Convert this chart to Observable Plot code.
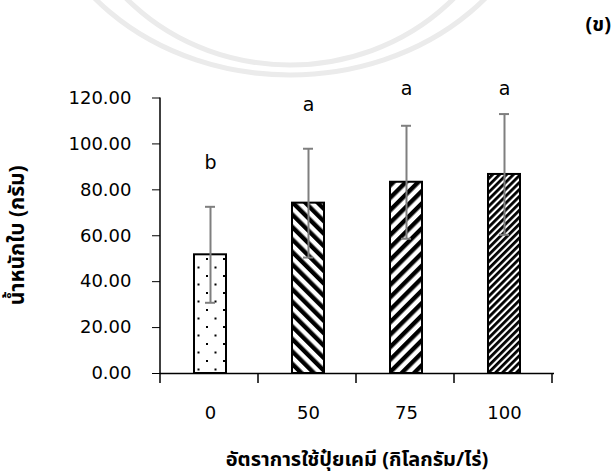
<!DOCTYPE html>
<html><head><meta charset="utf-8">
<script src="https://cdn.jsdelivr.net/npm/d3@7"></script>
<script src="https://cdn.jsdelivr.net/npm/@observablehq/plot@0.6"></script>
<style>
body{margin:0;background:#fff;}
#chart{position:relative;width:611px;height:475px;overflow:hidden;}
#chart svg.wm{position:absolute;left:0;top:0;}
#chart figure, #chart > svg:not(.wm){position:absolute;left:0;top:0;}
</style></head><body>
<svg width="0" height="0" style="position:absolute">
<defs>
<pattern id="dots" patternUnits="userSpaceOnUse" width="17" height="17">
<rect width="17" height="17" fill="#fff"/>
<rect x="2" y="3" width="2" height="2" fill="#000"/>
<rect x="10.5" y="11.5" width="2" height="2" fill="#000"/>
</pattern>
<pattern id="wideDown" patternUnits="userSpaceOnUse" width="8.8" height="8.8" patternTransform="rotate(-45)">
<rect width="8.8" height="8.8" fill="#fff"/>
<rect width="4.4" height="8.8" fill="#000"/>
</pattern>
<pattern id="wideUp" patternUnits="userSpaceOnUse" width="8.8" height="8.8" patternTransform="rotate(45)">
<rect width="8.8" height="8.8" fill="#fff"/>
<rect width="4.4" height="8.8" fill="#000"/>
</pattern>
<pattern id="darkUp" patternUnits="userSpaceOnUse" width="4.9" height="4.9" patternTransform="rotate(45)">
<rect width="4.9" height="4.9" fill="#fff"/>
<rect width="2.8" height="4.9" fill="#000"/>
</pattern>
</defs>
</svg>
<div id="chart"></div>
<script>
const rates = ["0", "50", "75", "100"];
const means = [51.7, 74.2, 83.3, 86.7];
const sds = [20.9, 23.7, 24.6, 26.3];
const letters = ["b", "a", "a", "a"];
const patterns = ["dots", "wideDown", "wideUp", "darkUp"];
const yTicks = [0, 20, 40, 60, 80, 100, 120];
const xTitle = "อัตราการใช้ปุ๋ยเคมี (กิโลกรัม/ไร่)";
const yTitle = "น้ำหนักใบ (กรัม)";
const panelTag = "(ข)";

const data = rates.map((r, i) => ({rate: r, mean: means[i], sd: sds[i], letter: letters[i], pattern: patterns[i]}));
const thaiFont = "'Noto Sans Thai', Tahoma, 'DejaVu Sans', sans-serif";
const errColor = "#7f7f7f";

const plot = Plot.plot({
  width: 611,
  height: 475,
  marginLeft: 160,
  marginRight: 57,
  marginTop: 97.5,
  marginBottom: 102,
  style: {fontFamily: "'DejaVu Sans', sans-serif", fontSize: "18px", color: "#000", background: "transparent", overflow: "visible"},
  x: {domain: rates, paddingInner: 0.675, paddingOuter: 0.3375, axis: null},
  y: {domain: [0, 120], axis: null},
  marks: [
    ...data.map(d => Plot.barY([d], {x: "rate", y: "mean", fill: `url(#${d.pattern})`, stroke: "#000", strokeWidth: 2})),
    Plot.ruleX(data, {x: "rate", y1: d => d.mean - d.sd, y2: d => d.mean + d.sd, stroke: errColor, strokeWidth: 2}),
    Plot.tickY(data, {x: "rate", y: d => d.mean + d.sd, stroke: errColor, strokeWidth: 2, insetLeft: 11, insetRight: 11}),
    Plot.tickY(data, {x: "rate", y: d => d.mean - d.sd, stroke: errColor, strokeWidth: 2, insetLeft: 11, insetRight: 11}),
    Plot.text(data, {x: "rate", y: d => Math.min(d.mean + d.sd + 19, 124), text: "letter", fontSize: 19}),
    Plot.ruleY([0], {stroke: "#000", strokeWidth: 1.5}),
    Plot.axisY({ticks: yTicks, tickFormat: d => d.toFixed(2), tickSize: 8, tickPadding: 21, fontSize: 18, label: null}),
    Plot.axisX({tickSize: 0, tickPadding: 33, fontSize: 18, label: null})
  ]
});

const svg = d3.select(plot);
const xs = plot.scale("x");
const ys = plot.scale("y");
const x0 = xs.range[0];
// y axis line
svg.append("line")
  .attr("x1", x0).attr("x2", x0)
  .attr("y1", ys.apply(0)).attr("y2", ys.apply(120))
  .attr("stroke", "#000").attr("stroke-width", 1.5);
// category boundary ticks
for (let i = 0; i <= rates.length; i++) {
  const bx = x0 + i * xs.step;
  svg.append("line")
    .attr("x1", bx).attr("x2", bx)
    .attr("y1", ys.apply(0)).attr("y2", ys.apply(0) + 10)
    .attr("stroke", "#000").attr("stroke-width", 1.5);
}
// axis titles
svg.append("text")
  .attr("x", (xs.range[0] + xs.range[1]) / 2).attr("y", 460)
  .attr("text-anchor", "middle").attr("dominant-baseline", "middle")
  .attr("font-family", thaiFont).attr("font-weight", "bold").attr("font-size", 20)
  .text(xTitle);
svg.append("text")
  .attr("transform", `translate(18,${(ys.apply(0) + ys.apply(120)) / 2}) rotate(-90)`)
  .attr("text-anchor", "middle").attr("dominant-baseline", "middle")
  .attr("font-family", thaiFont).attr("font-weight", "bold").attr("font-size", 21)
  .text(yTitle);
svg.append("text")
  .attr("x", 611).attr("y", 25)
  .attr("text-anchor", "end")
  .attr("dominant-baseline", "middle")
  .attr("font-family", thaiFont).attr("font-weight", "bold").attr("font-size", 20)
  .text(panelTag);

// faint background watermark arcs (page decoration, not chart data)
const wm = d3.select("#chart").append("svg").attr("class", "wm")
  .attr("width", 611).attr("height", 475);
[[255, 215], [222, 205]].forEach(([rx, ry]) => {
  wm.append("ellipse").attr("cx", 290).attr("cy", -140).attr("rx", rx).attr("ry", ry)
    .attr("fill", "none").attr("stroke", "#ebebeb").attr("stroke-width", 5);
});

document.getElementById("chart").appendChild(plot);
</script>
</body></html>
